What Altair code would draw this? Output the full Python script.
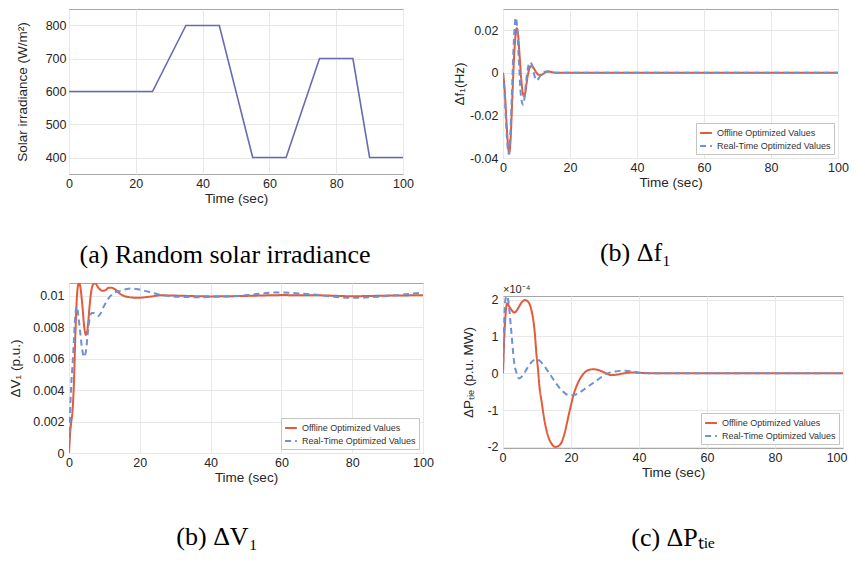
import altair as alt
import pandas as pd

# ---------------- data ----------------
series = ["Offline Optimized Values", "Real-Time Optimized Values"]

# (a) solar irradiance
a_t = [0, 25, 35, 45, 55, 65, 75, 85, 90, 100]
a_v = [600, 600, 800, 800, 400, 400, 700, 700, 400, 400]

# (b) delta f1
f_off_t = [0, 0.5, 1.0, 1.5, 1.8, 2.2, 2.7, 3.2, 3.7, 4.1, 4.5, 5.0, 5.5, 6.0, 6.3, 6.7, 7.2, 7.7, 8.2, 8.6,
           9.2, 9.8, 10.5, 11.2, 12.0, 12.7, 13.5, 14.5, 15.5, 17, 20, 30, 50, 100]
f_off_v = [0, -0.008, -0.022, -0.034, -0.038, -0.033, -0.015, 0.004, 0.017, 0.021, 0.018, 0.007, -0.004, -0.010,
           -0.011, -0.009, -0.003, 0.001, 0.003, 0.0032, 0.0022, 0.0005, -0.0008, -0.0011, -0.0005, 0.0003, 0.0007,
           0.0004, 0.0001, 0, 0, 0, 0, 0]
f_rt_t = [0, 0.5, 1.0, 1.4, 1.7, 2.1, 2.6, 3.1, 3.5, 3.8, 4.2, 4.7, 5.2, 5.7, 6.0, 6.4, 6.9, 7.4, 8.0, 8.6,
          9.2, 9.7, 10.1, 10.7, 11.5, 12.3, 13.2, 14.2, 15.5, 17, 20, 30, 50, 100]
f_rt_v = [0, -0.010, -0.026, -0.035, -0.038, -0.032, -0.012, 0.010, 0.022, 0.026, 0.022, 0.007, -0.008, -0.014,
          -0.015, -0.012, -0.004, 0.002, 0.005, 0.004, 0.000, -0.003, -0.0035, -0.0025, -0.0005, 0.0005, 0.0006,
          0.0002, 0, 0, 0, 0, 0, 0]

# (b) delta V1
v_off_t = [0, 0.3, 0.6, 1.0, 1.4, 1.8, 2.2, 2.6, 2.9, 3.3, 3.8, 4.3, 4.8, 5.3, 5.8, 6.3, 6.8, 7.4, 8.0, 8.7,
           9.5, 10.3, 11.2, 12.0, 13.0, 14.5, 16.5, 19.3, 22.5, 26, 30, 40, 50, 60, 70, 80, 90, 100]
v_off_v = [0, 0.0012, 0.0019, 0.0027, 0.0045, 0.0075, 0.0098, 0.0107, 0.0108, 0.0104, 0.0093, 0.0080, 0.0075,
           0.0080, 0.0093, 0.0103, 0.0107, 0.0108, 0.0106, 0.0104, 0.0103, 0.01035, 0.0105, 0.0105, 0.0104,
           0.0101, 0.00992, 0.00986, 0.00992, 0.01002, 0.01000, 0.00995, 0.00998, 0.01003, 0.01002, 0.00996,
           0.01000, 0.01002]
v_rt_t = [0, 0.3, 0.6, 1.0, 1.4, 1.8, 2.2, 2.7, 3.2, 3.7, 4.3, 4.8, 5.3, 5.8, 6.4, 7.0, 7.6, 8.3, 9.0, 9.8,
          10.8, 11.8, 13.0, 14.5, 16, 17.5, 19.5, 21.5, 24, 27, 31, 36, 42, 48, 54, 59, 64, 70, 75, 79,
          84, 90, 95, 100]
v_rt_v = [0, 0.0025, 0.0042, 0.0056, 0.0072, 0.0088, 0.0093, 0.0086, 0.0076, 0.0066, 0.0061, 0.0065, 0.0076,
          0.0085, 0.0089, 0.0089, 0.0088, 0.0087, 0.0089, 0.0093, 0.0097, 0.0100, 0.0102, 0.0103, 0.0104,
          0.01045, 0.0104, 0.0103, 0.01015, 0.0100, 0.00992, 0.0099, 0.00992, 0.00998, 0.01012, 0.0102,
          0.01015, 0.01005, 0.00992, 0.00986, 0.00988, 0.00998, 0.01008, 0.0102]

# (c) delta P tie (x 1e-4)
p_off_t = [0, 0.3, 0.65, 1.2, 1.8, 2.5, 3.3, 4.0, 4.7, 5.6, 6.5, 7.3, 7.9, 8.4, 8.9, 9.4, 9.8, 10.3, 10.7, 11.4,
           12.1, 12.8, 13.5, 14.4, 15.4, 16.4, 17.3, 18.2, 19.1, 20.0, 21.0, 22.0, 22.9, 23.8, 24.7, 25.6, 26.6,
           28.0, 29.4, 30.5, 31.7, 33.3, 35, 37.8, 41, 45, 50, 100]
p_off_v = [0, 0.8, 1.45, 1.9, 1.82, 1.72, 1.65, 1.7, 1.81, 1.94, 1.99, 1.95, 1.86, 1.7, 1.45, 1.05, 0.56, 0.1,
           -0.34, -0.8, -1.23, -1.55, -1.77, -1.93, -2.0, -1.97, -1.86, -1.6, -1.23, -0.86, -0.51, -0.27, -0.11,
           0.0, 0.07, 0.1, 0.11, 0.09, 0.04, -0.01, -0.05, -0.04, -0.01, 0.02, 0.01, 0, 0, 0]
p_rt_t = [0, 0.3, 0.7, 1.1, 1.6, 2.3, 3.3, 4.0, 4.7, 5.4, 6.1, 7.0, 7.9, 8.8, 9.8, 10.8, 11.7, 12.6, 13.5, 14.5,
          15.4, 16.4, 17.3, 18.2, 19.1, 20.5, 22.4, 24.7, 27.5, 30.3, 33.1, 35.9, 38.7, 41.5, 45, 50, 100]
p_rt_v = [0, 1.2, 2.0, 2.1, 1.95, 1.28, 0.29, 0.0, -0.14, -0.1, -0.02, 0.12, 0.25, 0.34, 0.38, 0.34, 0.25, 0.14,
          0.02, -0.12, -0.25, -0.37, -0.47, -0.54, -0.59, -0.6, -0.53, -0.38, -0.2, -0.02, 0.05, 0.07, 0.04,
          0.0, 0, 0, 0]

x_ticks = [0, 20, 40, 60, 80, 100]

# ---------------- style ----------------
RED = "#e45a3a"
BLUE = "#6d92d3"
PURPLE = "#6a6ab2"
SANS = "Liberation Sans"
SERIF = "Liberation Serif"
INK = "#262626"


def long_df(t1, v1, t2, v2):
    return pd.DataFrame({
        "t": t1 + t2,
        "v": v1 + v2,
        "s": [series[0]] * len(t1) + [series[1]] * len(t2),
    })


def x_enc(flush=False):
    extra = {"labelFlush": True, "labelFlushOffset": 4} if flush else {"labelFlush": False}
    return alt.X("t:Q", scale=alt.Scale(domain=[0, 100], nice=False, zero=False),
                 axis=alt.Axis(values=x_ticks, title="Time (sec)", labelPadding=3, titlePadding=2, **extra))


def caption(text, offset, dx):
    return alt.TitleParams(text, orient="bottom", anchor="middle", frame="group", font=SERIF,
                           fontSize=26, fontWeight="normal", color="black", offset=offset, dx=dx)


def legend():
    return alt.Legend(title=None, orient="bottom-right", offset=4, fillColor="white",
                      strokeColor="#c4c4c4", padding=3, labelFont=SANS, labelFontSize=9,
                      labelColor="#333333", symbolType="stroke", symbolStrokeWidth=2,
                      symbolSize=140, rowPadding=1, labelLimit=250)


def dyn_panel(df, w, h, ydomain, yvalues, ytitle, tpad, lpad, cap, cap_off, cap_dx, flush=False):
    return alt.Chart(df).mark_line(strokeWidth=2, clip=True, interpolate="monotone").encode(
        x=x_enc(flush),
        y=alt.Y("v:Q", scale=alt.Scale(domain=ydomain, nice=False, zero=False),
                axis=alt.Axis(values=yvalues, title=ytitle, labelExpr="toString(datum.value)",
                              titlePadding=tpad, labelPadding=lpad)),
        color=alt.Color("s:N", scale=alt.Scale(domain=series, range=[RED, BLUE]), legend=legend()),
        strokeDash=alt.StrokeDash("s:N", scale=alt.Scale(domain=series, range=[[1, 0], [6, 4]]),
                                  legend=legend()),
    ).properties(width=w, height=h, title=caption(cap, cap_off, cap_dx))


# panel (a)
df_a = pd.DataFrame({"t": a_t, "v": a_v})
panel_a = alt.Chart(df_a).mark_line(color=PURPLE, strokeWidth=1.6).encode(
    x=x_enc(),
    y=alt.Y("v:Q", scale=alt.Scale(domain=[350, 850], nice=False, zero=False),
            axis=alt.Axis(values=[400, 500, 600, 700, 800], title="Solar irradiance (W/m²)",
                          titlePadding=16, labelPadding=3)),
).properties(width=334, height=165, title=caption("(a)  Random solar irradiance", 37, -11))

# panel (b) delta f1
panel_b = dyn_panel(long_df(f_off_t, f_off_v, f_rt_t, f_rt_v), 335, 149, [-0.04, 0.03],
                    [-0.04, -0.02, 0, 0.02], "Δf₁(Hz)", 3, 5, "(b) Δf₁", 51, -35)

# panel (b) delta V1
panel_c = dyn_panel(long_df(v_off_t, v_off_v, v_rt_t, v_rt_v), 354, 170, [0, 0.0108],
                    [0, 0.002, 0.004, 0.006, 0.008, 0.01], "ΔV₁ (p.u.)", 10, 5, "(b)   ΔV₁", 40, -29)

# panel (c) delta P tie
d_lines = dyn_panel(long_df(p_off_t, p_off_v, p_rt_t, p_rt_v), 340, 152, [-2.03, 2.1],
                    [-2, -1, 0, 1, 2], "ΔPₜᵢₑ (p.u. MW)", 11, 5, "(c) ΔPₜᵢₑ", 46, 0, flush=True)
d_exp = alt.Chart(alt.Data(values=[{}])).mark_text(
    text="×10⁻⁴", align="left", baseline="bottom", font=SANS, fontSize=11, color=INK
).encode(x=alt.value(0), y=alt.value(-1))
panel_d = alt.layer(d_lines, d_exp)

col1 = alt.vconcat(panel_a, panel_c, spacing=13).resolve_scale(
    color="independent", strokeDash="independent")
col2 = alt.vconcat(panel_b, panel_d, spacing=16).resolve_scale(
    color="independent", strokeDash="independent")

chart = alt.hconcat(col1, col2, spacing=18).resolve_scale(
    color="independent", strokeDash="independent"
).properties(
    padding=0, background="white"
).configure_view(
    stroke="#a6a6a6", strokeWidth=1
).configure_axis(
    gridColor="#e8e8e8", gridWidth=1, ticks=False, domain=False,
    labelFont=SANS, titleFont=SANS, labelFontSize=12.5, titleFontSize=13.5,
    labelColor=INK, titleColor=INK, titleFontWeight="normal"
)

chart.save("out.html", embed_options={"renderer": "svg", "actions": False})
